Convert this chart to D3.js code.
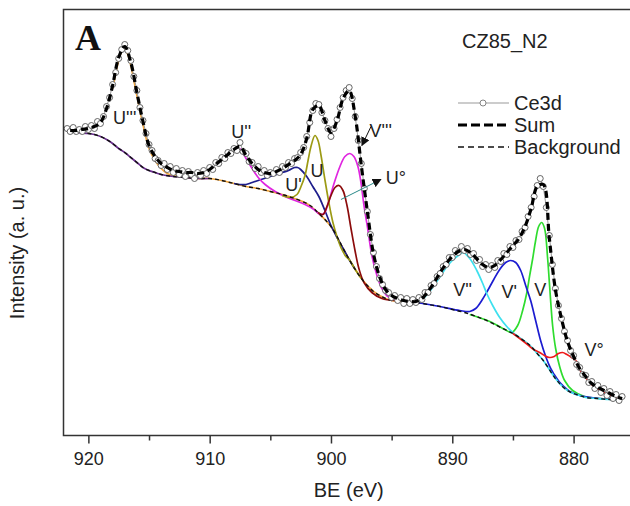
<!DOCTYPE html>
<html>
<head>
<meta charset="utf-8">
<script src="https://cdn.jsdelivr.net/npm/d3@7"></script>
<style>
body { margin: 0; background: #fff; }
text { font-family: "Liberation Sans", Arial, sans-serif; fill: #222; }
</style>
</head>
<body>
<svg id="svgCanvas" width="630" height="506"></svg>
<script>
// measured Ce3d points, energy grid 921.75 -> 876.00 eV, step 0.25
var dataStart = 921.75, dataStep = 0.25;
var ce3d = [312,309,313,309,311,309,314,311,315,312,319,317,
            324,334,343,356,368,382,391,396,390,380,364,350,
            333,320,307,296,290,282,280,275,277,271,274,268,
            272,266,270,264,269,266,262,268,265,270,267,273,
            271,278,277,283,282,288,287,292,290,298,289,287,
            279,278,272,274,268,270,265,268,267,271,268,274,
            273,278,277,282,283,288,293,304,318,330,337,336,
            328,320,312,304,312,321,333,343,350,353,342,324,
            300,277,252,229,206,188,174,162,156,150,148,143,
            145,140,143,137,142,137,141,138,143,141,148,148,
            155,157,164,167,174,176,183,183,190,188,194,190,
            192,186,187,180,181,174,176,171,175,173,180,179,
            187,186,194,193,200,201,209,213,224,233,244,255,
            262,254,233,205,176,152,135,122,109,100,90,85,
            76,73,66,65,58,59,52,55,48,52,45,49,
            42,46,40,44];

// fitted sum, grid 921.5 -> 876.0 eV, step 0.5
var sumStart = 921.5, sumStep = 0.5;
var sumFit = [310,310,311,312,314,318,332,355,383,394,378,348,
              319,295,284,277,273,270,269,268,268,267,268,271,
              276,281,286,291,294,285,277,271,268,267,269,272,
              276,280,286,302,331,335,320,308,320,342,350,324,
              275,229,187,164,151,145,142,140,139,139,142,149,
              158,168,177,184,189,191,188,182,176,173,175,181,
              188,195,202,214,232,254,256,202,151,122,99,84,
              72,64,57,53,50,47,44,42];

// [BE, intensity]
var background = [[921.8,310],[921,308],[920,307],[919.5,306],[919,304],[918.5,301],[918,297],[917.5,292],[917,288],[916.5,283],[916,278],[915.5,273],[915,270],[914.5,268],[914,266],[913,264],[912,263],[911,262],[910,262],[909,260],[908,257],[907,254],[906,252],[905,249],[904,246],[903,242],[902,237],[901.5,233],[901,227],[900.5,221],[900,214],[899.5,204],[899,192],[898.5,181],[898,171],[897.5,162],[897,155],[896.5,149],[896,145],[895.5,142],[895,140],[894,139],[893,138],[892,136],[891,134],[890,131],[889,128],[888,124],[887,119],[886,113],[885,107],[884,99],[883.5,94],[883,87],[882.5,80],[882,71],[881.5,62],[881,55],[880.5,50],[880,47],[879.5,45],[879,43],[878,42],[877,41],[876,41]];

var compU3 = [[921.8,310],[921,308],[920,307],[919.5,306],[919,304],[918.5,301],[918,297],[917.5,292],[917,288],[916.5,283],[916,278],[915.5,273],[915,270],[914.5,268],[914,266],[913,264],[912,263],[911,262],[910,262]];
var compOrange = [[918,352],[917.5,380],[917.25,389],[917,391],[916.75,386],[916.5,375],[916,345],[915.5,316],[915,292],[914.5,280],[914,272],[913.5,267],[913,265],[912,263],[911,262],[910,262],[909,260],[908,257],[907,254],[906,252],[905,249],[904,246],[903,242],[902,237],[901,227],[900,214],[899,192],[898,171],[897,155],[896,145],[895,140],[894,139]];
var compU1 = [[908,257],[907.5,256],[907,256],[906.5,258],[906,260],[905.5,262],[905,264],[904.5,266],[904,268],[903.5,270],[903,273],[902.75,273],[902.5,271],[902,264],[901.5,254],[901,244],[900.5,230],[900,215],[899.5,203],[899,192],[898.5,181],[898,171]];
var compU2V3 = [[907.49,292],[907,282],[906.5,272],[906,263],[905.43,256],[904.6,249],[903.79,244],[902.96,240],[902.14,236],[901.4,231],[900.9,226],[900.58,227],[900.16,240],[899.75,257],[899.26,274],[898.85,284],[898.44,287],[898.11,284],[897.78,274],[897.53,258],[897.28,235],[896.95,210],[896.63,185],[896.21,165],[895.8,152],[895.31,144],[894.7,141]];
var compU = [[904.03,245],[903.37,243],[902.8,246],[902.47,254],[902.14,265],[901.89,280],[901.65,294],[901.32,305],[901.07,300],[900.82,285],[900.49,260],[900.16,237],[899.84,218],[899.51,204],[899.18,193],[898.77,184],[898.5,181],[898,171],[897.5,162]];
var compU0 = [[901.07,228],[900.66,226],[900.33,234],[900,245],[899.67,253],[899.34,255],[899.01,250],[898.68,235],[898.35,212],[898.02,190],[897.7,172],[897.28,158],[896.63,148],[895.8,142],[894.73,140]];
var compV2 = [[893,139],[892.5,141],[892,147],[891.5,155],[891,164],[890.5,173],[890,180],[889.5,185],[889.1,188],[888.56,182],[887.98,170],[887.49,157],[887.16,147],[886.67,135],[886.09,123],[885.51,114],[885.02,108],[884,99],[883.5,94],[883,87],[882.5,80],[882,71],[881.5,62],[881,55],[880.5,50],[880,47],[879.5,45],[879,43],[878,42],[877,41],[876,41]];
var compV1 = [[892.92,138],[891.03,134],[889.38,130],[888.56,129],[888.07,132],[887.57,140],[887.08,150],[886.58,161],[886.09,171],[885.6,178],[885.19,180],[884.77,178],[884.36,170],[883.95,155],[883.54,140],[883.13,120],[882.72,100],[882.3,84],[881.89,72],[881.6,66],[881.2,59],[880.8,54],[880.3,49],[879.5,45],[877.86,42],[876.05,41]];
var compV = [[888.56,126],[886.91,119],[885.68,111],[885.1,108],[884.61,115],[884.2,130],[883.87,147],[883.62,165],[883.37,182],[883.13,200],[882.88,214],[882.63,218],[882.39,212],[882.14,182],[881.98,155],[881.73,115],[881.48,92],[881.15,74],[880.74,60],[880.08,50],[879.1,44],[877.86,42],[876.05,41]];
var compV0 = [[885,107],[884.44,102],[883.8,96],[883.3,91],[882.8,88],[882.4,85],[881.98,83],[881.6,84],[881.25,87],[880.91,88],[880.55,86],[880.16,83],[879.75,79],[879.5,71],[879,63],[878.5,56],[878,52],[877.5,48],[877,45],[876.5,43],[876,41]];

var xTicks = [920, 910, 900, 890, 880];
var xMinorTicks = [915, 905, 895, 885];

var peakNames = ["U'''", "U''", "U'", "U", "V'''", "U°", "V''", "V'", "V", "V°"];
var peakLabelBE = [917.0, 907.4, 903.1, 901.15, 895.9, 894.65, 889.15, 885.3, 882.75, 878.3];
var peakLabelI = [317, 303, 250, 264, 304, 257, 145, 143, 145, 85];

var legendNames = ["Ce3d", "Sum", "Background"];

var canvas = d3.select("#svgCanvas");
var plotLeft = 63.5, plotRight = 630, plotTop = 9.5, plotBottom = 435.5;

var x = d3.scaleLinear().domain([922.05, 875.35]).range([plotLeft, plotRight]);
var y = d3.scaleLinear().domain([5, 431]).range([plotBottom, plotTop]);

var line = d3.line()
    .x(function(d) { return x(d[0]); })
    .y(function(d) { return y(d[1]); })
    .curve(d3.curveCatmullRom.alpha(0.5));

var defs = canvas.append("defs");
defs.append("clipPath").attr("id", "plotClip")
    .append("rect").attr("x", plotLeft).attr("y", plotTop)
    .attr("width", plotRight - plotLeft).attr("height", plotBottom - plotTop);
defs.append("marker").attr("id", "arrowHead")
    .attr("viewBox", "0 0 10 10").attr("refX", 9).attr("refY", 5)
    .attr("markerUnits", "userSpaceOnUse").attr("markerWidth", 9).attr("markerHeight", 9)
    .attr("orient", "auto")
    .append("path").attr("d", "M0,0 L10,5 L0,10 z").attr("fill", "#111");

var plot = canvas.append("g").attr("clip-path", "url(#plotClip)");

//fitted components (drawn under the background)
var comps = [
    [compOrange, "#f2a43a"],
    [compU3, "#6a2d8e"],
    [compU1, "#1e1e8c"],
    [compU2V3, "#e026e0"],
    [compU, "#9c9a14"],
    [compU0, "#8c0c0c"],
    [compV, "#2fdc2f"],
    [compV1, "#1c1cd0"],
    [compV2, "#3ee0ee"],
    [compV0, "#ee1a1a"]
];
comps.forEach(function(c) {
    plot.append("path")
        .attr("d", line(c[0]))
        .attr("fill", "none")
        .attr("stroke", c[1])
        .attr("stroke-width", 1.7)
        .attr("class", "component");
});

plot.append("path")
    .attr("d", line(background))
    .attr("fill", "none")
    .attr("stroke", "#111")
    .attr("stroke-width", 1.4)
    .attr("stroke-dasharray", "4,3");

var ce3dPts = ce3d.map(function(v, i) { return [dataStart - i * dataStep, v]; });
var sumPts = sumFit.map(function(v, i) { return [sumStart - i * sumStep, v]; });

plot.append("path")
    .attr("d", d3.line().x(function(d) { return x(d[0]); }).y(function(d) { return y(d[1]); })(ce3dPts))
    .attr("fill", "none")
    .attr("stroke", "#999")
    .attr("stroke-width", 1);

plot.selectAll("circle.ce3d").data(ce3dPts).enter().append("circle")
    .attr("class", "ce3d")
    .attr("cx", function(d) { return x(d[0]); })
    .attr("cy", function(d) { return y(d[1]); })
    .attr("r", 3)
    .attr("fill", "#fff")
    .attr("stroke", "#555")
    .attr("stroke-width", 0.9);

plot.append("path")
    .attr("d", line(sumPts))
    .attr("fill", "none")
    .attr("stroke", "#000")
    .attr("stroke-width", 3.2)
    .attr("stroke-dasharray", "7,4");

//peak labels
canvas.selectAll("text.peak").data(peakNames).enter().append("text")
    .attr("class", "peak")
    .attr("x", function(d, i) { return x(peakLabelBE[i]); })
    .attr("y", function(d, i) { return y(peakLabelI[i]); })
    .attr("text-anchor", "middle")
    .style("font-size", "18px")
    .text(function(d) { return d; });

//arrows for V''' and U°
canvas.append("line")
    .attr("x1", x(896.7)).attr("y1", y(314))
    .attr("x2", x(897.45)).attr("y2", y(295))
    .attr("stroke", "#111").attr("stroke-width", 1)
    .attr("marker-end", "url(#arrowHead)");
canvas.append("line")
    .attr("x1", x(899.18)).attr("y1", y(241))
    .attr("x2", x(895.89)).attr("y2", y(261))
    .attr("stroke", "#2a8a8a").attr("stroke-width", 1)
    .attr("marker-end", "url(#arrowHead)");

//frame and axis
canvas.append("rect")
    .attr("x", plotLeft).attr("y", plotTop)
    .attr("width", plotRight - plotLeft + 5).attr("height", plotBottom - plotTop)
    .attr("fill", "none").attr("stroke", "#333").attr("stroke-width", 1.5);

var xAxis = canvas.append("g")
    .attr("transform", "translate(0," + plotBottom + ")")
    .call(d3.axisBottom(x).tickValues(xTicks).tickSize(8).tickPadding(9).tickFormat(d3.format("d")));
xAxis.select(".domain").remove();
xAxis.selectAll("line").attr("stroke", "#333").attr("stroke-width", 1.5);
xAxis.selectAll("text").style("font-size", "18px").style("fill", "#222")
    .style("font-family", "'Liberation Sans', Arial, sans-serif");

var xMinor = canvas.append("g")
    .attr("transform", "translate(0," + plotBottom + ")")
    .call(d3.axisBottom(x).tickValues(xMinorTicks).tickSize(5).tickFormat(""));
xMinor.select(".domain").remove();
xMinor.selectAll("line").attr("stroke", "#333").attr("stroke-width", 1.5);

canvas.append("text")
    .attr("x", (plotLeft + plotRight) / 2 + 2).attr("y", 497)
    .attr("text-anchor", "middle")
    .style("font-size", "20px")
    .text("BE (eV)");

canvas.append("text")
    .attr("transform", "translate(24," + 253 + ") rotate(-90)")
    .attr("text-anchor", "middle")
    .style("font-size", "20px")
    .text("Intensity (a. u.)");

canvas.append("text")
    .attr("x", 75).attr("y", 50)
    .style("font-family", "'Liberation Serif', 'Times New Roman', serif")
    .style("font-weight", "bold")
    .style("font-size", "36px")
    .style("fill", "#111")
    .text("A");

//legend
canvas.append("text")
    .attr("x", 462).attr("y", 48)
    .style("font-size", "20px")
    .text("CZ85_N2");

var legendY = [103, 125, 147];
var leg = canvas.append("g");
leg.append("line")
    .attr("x1", 458).attr("y1", legendY[0]).attr("x2", 509).attr("y2", legendY[0])
    .attr("stroke", "#999").attr("stroke-width", 1.2);
leg.append("circle")
    .attr("cx", 483).attr("cy", legendY[0]).attr("r", 3)
    .attr("fill", "#fff").attr("stroke", "#777").attr("stroke-width", 0.9);
leg.append("line")
    .attr("x1", 458).attr("y1", legendY[1]).attr("x2", 509).attr("y2", legendY[1])
    .attr("stroke", "#000").attr("stroke-width", 3.2).attr("stroke-dasharray", "9,4");
leg.append("line")
    .attr("x1", 458).attr("y1", legendY[2]).attr("x2", 509).attr("y2", legendY[2])
    .attr("stroke", "#111").attr("stroke-width", 1.4).attr("stroke-dasharray", "6,4");
leg.selectAll("text").data(legendNames).enter().append("text")
    .attr("x", 514)
    .attr("y", function(d, i) { return legendY[i] + 7; })
    .style("font-size", "20px")
    .text(function(d) { return d; });
</script>
</body>
</html>
